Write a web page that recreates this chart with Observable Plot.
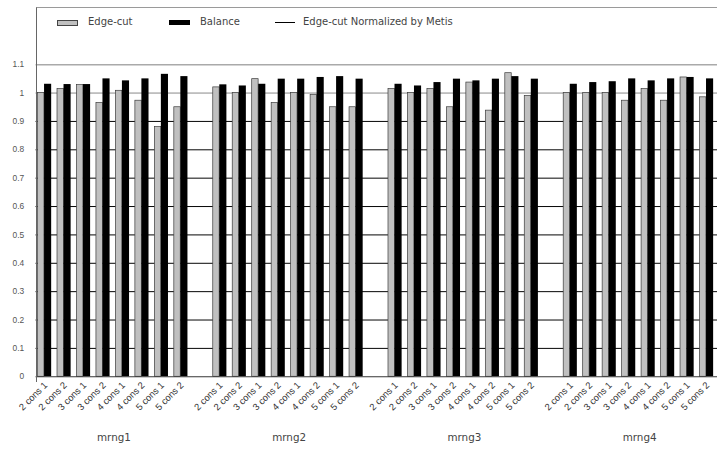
<!DOCTYPE html>
<html>
<head>
<meta charset="utf-8">
<script src="https://cdn.jsdelivr.net/npm/d3@7"></script>
<script src="https://cdn.jsdelivr.net/npm/@observablehq/plot@0.6"></script>
<style>
  html, body { margin: 0; padding: 0; background: #fff; overflow: hidden; }
  #wrap { position: relative; width: 717px; height: 452px; overflow: hidden; }
  #chart svg { display: block; font-family: "Liberation Sans", Arial, sans-serif; }
  #chart [aria-label^="x-axis"] text { font-size: 9.5px; fill: #333; }
  #chart [aria-label^="y-axis"] text { font-size: 8.5px; fill: #555; }
  #frame { position: absolute; left: 36px; top: 7px; width: 700px; height: 374px;
           border-top: 1px solid #9a9a9a; border-left: 1px solid #666; pointer-events: none; }
  .lg { position: absolute; font-family: "DejaVu Sans", sans-serif; font-size: 10px; color: #444; }
  .sw { position: absolute; }
</style>
</head>
<body>
<div id="wrap">
  <div id="chart"></div>
  <div id="frame"></div>
  <div class="sw" style="left:57px;top:20px;width:19px;height:4px;background:#c0c0c0;border:1px solid #444;"></div>
  <div class="lg" style="left:88px;top:16px;">Edge-cut</div>
  <div class="sw" style="left:169px;top:20px;width:21px;height:5px;background:#000;"></div>
  <div class="lg" style="left:200px;top:16px;">Balance</div>
  <div class="sw" style="left:275px;top:22px;width:20px;height:1px;background:#000;"></div>
  <div class="lg" style="left:303px;top:16px;">Edge-cut Normalized by Metis</div>
</div>
<script>
const cats = ["2 cons 1", "2 cons 2", "3 cons 1", "3 cons 2", "4 cons 1", "4 cons 2", "5 cons 1", "5 cons 2"];
const groups = ["mrng1", "mrng2", "mrng3", "mrng4"];

const edgeCutMrng1 = [1.000, 1.014, 1.028, 0.965, 1.008, 0.973, 0.880, 0.950];
const edgeCutMrng2 = [1.020, 1.000, 1.049, 0.965, 1.000, 0.993, 0.950, 0.950];
const edgeCutMrng3 = [1.014, 1.000, 1.014, 0.950, 1.037, 0.938, 1.070, 0.990];
const edgeCutMrng4 = [1.000, 1.000, 1.000, 0.973, 1.014, 0.973, 1.055, 0.985];

const balanceMrng1 = [1.031, 1.030, 1.030, 1.050, 1.043, 1.050, 1.066, 1.058];
const balanceMrng2 = [1.029, 1.025, 1.031, 1.049, 1.049, 1.055, 1.058, 1.049];
const balanceMrng3 = [1.031, 1.025, 1.037, 1.049, 1.043, 1.049, 1.058, 1.049];
const balanceMrng4 = [1.031, 1.037, 1.040, 1.050, 1.043, 1.050, 1.055, 1.050];

const metisLine = [1];
const yTicks = [0, 0.1, 0.2, 0.3, 0.4, 0.5, 0.6, 0.7, 0.8, 0.9, 1, 1.1];
const yTickLabels = ["0", "0.1", "0.2", "0.3", "0.4", "0.5", "0.6", "0.7", "0.8", "0.9", "1", "1.1"];
const gridDark = [0.1, 0.2, 0.3, 0.4, 0.5, 0.6, 0.7, 0.8, 0.9];
const gridTop = [1.1];

const edgeByGroup = [edgeCutMrng1, edgeCutMrng2, edgeCutMrng3, edgeCutMrng4];
const balByGroup = [balanceMrng1, balanceMrng2, balanceMrng3, balanceMrng4];

const rows = groups.flatMap((g, gi) => cats.map((c, ci) => ({
  key: g + "|" + c, edge: edgeByGroup[gi][ci], balance: balByGroup[gi][ci]
})));
const xDomain = groups.flatMap((g, gi) => [
  ...cats.map(c => g + "|" + c),
  ...(gi < groups.length - 1 ? ["gap" + gi] : [])
]);

const W = 726, ML = 36, MR = 0;
const step = (W - ML - MR) / xDomain.length;

const chart = Plot.plot({
  width: W,
  height: 452,
  marginLeft: ML,
  marginRight: MR,
  marginTop: 65,
  marginBottom: 71,
  style: {background: "transparent"},
  x: {
    domain: xDomain, padding: 0, round: false, label: null,
    tickSize: 0, tickPadding: 7, tickRotate: -45,
    tickFormat: d => d.startsWith("gap") ? "" : d.split("|")[1]
  },
  y: {
    domain: [0, 1.1], label: null, ticks: yTicks, tickSize: 0, tickPadding: 12,
    tickFormat: d => yTickLabels[yTicks.indexOf(d)]
  },
  marks: [
    Plot.ruleY(gridDark, {stroke: "#000", strokeWidth: 1}),
    Plot.ruleY(metisLine, {stroke: "#888", strokeWidth: 1}),
    Plot.ruleY(gridTop, {stroke: "#aaa", strokeWidth: 1.5}),
    Plot.barY(rows, {x: "key", y: "edge", fill: "#c0c0c0", stroke: "#3a3a3a", strokeWidth: 0.7,
      insetLeft: 2, insetRight: step - 8.5}),
    Plot.barY(rows, {x: "key", y: "balance", fill: "#000",
      insetLeft: 8.6, insetRight: step - 15.8}),
    Plot.ruleY([0], {stroke: "#333", strokeWidth: 1}),
    Plot.text(groups, {x: g => g + "|4 cons 1", text: d => d, frameAnchor: "bottom",
      dy: 65, dx: -step / 2, fontSize: 10.5, fill: "#444",
      fontFamily: "DejaVu Sans, sans-serif"})
  ]
});
document.getElementById("chart").appendChild(chart);
</script>
</body>
</html>
